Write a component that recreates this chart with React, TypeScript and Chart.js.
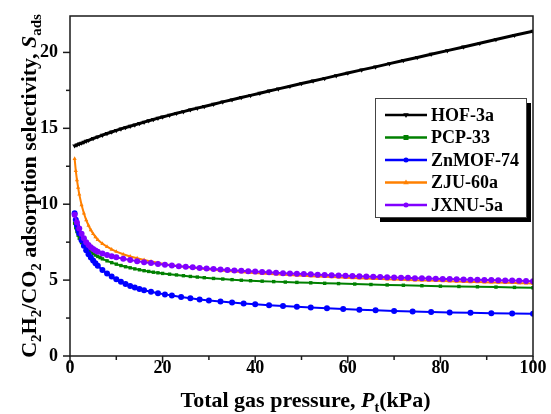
import React, { useEffect, useRef } from 'react';
import { Chart, registerables } from 'chart.js';

Chart.register(...registerables);

const FAMILY = '"Liberation Serif", "Times New Roman", serif';

// Total gas pressure (kPa) and IAST selectivity for each framework
const hofPressure = [1, 1.5, 2, 2.5, 3, 3.5, 4, 5, 6, 7, 8, 9, 10, 11, 12, 13, 14, 15, 16, 17, 18, 19, 20, 21.5, 23, 24.5, 26, 27.5, 29, 31, 33, 35, 37, 39, 41, 43, 45, 47.5, 50, 52.5, 55, 57.5, 60, 63, 66, 69, 72, 75, 78, 81.5, 85, 88.5, 92, 96, 100];
const hofSelectivity = [13.85, 13.91, 13.97, 14.03, 14.09, 14.15, 14.21, 14.33, 14.44, 14.55, 14.66, 14.76, 14.86, 14.96, 15.05, 15.14, 15.23, 15.32, 15.41, 15.5, 15.58, 15.67, 15.75, 15.87, 15.99, 16.1, 16.22, 16.33, 16.44, 16.59, 16.74, 16.88, 17.03, 17.17, 17.31, 17.46, 17.6, 17.77, 17.95, 18.12, 18.29, 18.47, 18.64, 18.85, 19.05, 19.26, 19.47, 19.67, 19.88, 20.12, 20.36, 20.6, 20.85, 21.13, 21.4];

const pcpPressure = [1, 1.25, 1.5, 1.75, 2, 2.5, 3, 3.5, 4, 4.5, 5, 5.5, 6, 6.5, 7, 8, 9, 10, 11, 12, 13, 14, 15, 16, 17, 18, 19, 20, 21.5, 23, 24.5, 26, 27.5, 29, 31, 33, 35, 37, 39, 41.5, 44, 46.5, 49, 52, 55, 58, 61.5, 65, 68.5, 72, 76, 80, 84, 88, 92, 96, 100];
const pcpSelectivity = [8.75, 8.45, 8.2, 7.96, 7.76, 7.47, 7.26, 7.12, 7.0, 6.87, 6.75, 6.65, 6.56, 6.48, 6.4, 6.27, 6.15, 6.05, 5.96, 5.88, 5.81, 5.74, 5.68, 5.62, 5.57, 5.52, 5.48, 5.44, 5.39, 5.34, 5.29, 5.24, 5.2, 5.16, 5.11, 5.07, 5.03, 4.99, 4.96, 4.93, 4.9, 4.87, 4.85, 4.82, 4.79, 4.77, 4.74, 4.71, 4.68, 4.66, 4.63, 4.6, 4.58, 4.56, 4.54, 4.52, 4.5];

const znPressure = [1, 1.25, 1.5, 1.75, 2, 2.5, 3, 3.5, 4, 4.5, 5, 5.5, 6, 7, 8, 9, 10, 11, 12, 13, 14, 15, 16, 17.5, 19, 20.5, 22, 24, 26, 28, 30, 32.5, 35, 37.5, 40, 43, 46, 49, 52, 55.5, 59, 62.5, 66, 70, 74, 78, 82, 86.5, 91, 95.5, 100];
const znSelectivity = [9.4, 8.98, 8.62, 8.33, 8.08, 7.63, 7.27, 6.97, 6.71, 6.49, 6.29, 6.11, 5.95, 5.67, 5.43, 5.23, 5.05, 4.89, 4.75, 4.62, 4.51, 4.41, 4.33, 4.23, 4.14, 4.06, 3.98, 3.89, 3.81, 3.73, 3.66, 3.59, 3.52, 3.46, 3.41, 3.35, 3.3, 3.25, 3.2, 3.15, 3.1, 3.05, 3.01, 2.97, 2.93, 2.9, 2.87, 2.85, 2.82, 2.8, 2.78];

const zjuPressure = [1, 1.25, 1.5, 1.75, 2, 2.5, 3, 3.5, 4, 4.5, 5, 5.5, 6, 7, 8, 9, 10, 11.5, 13, 14.5, 16, 17.5, 19, 20.5, 22, 23.5, 25, 26.5, 28, 29.5, 31, 32.5, 34, 35.5, 37, 38.5, 40, 41.5, 43, 44.5, 46, 47.5, 49, 50.5, 52, 53.5, 55, 56.5, 58, 59.5, 61, 62.5, 64, 65.5, 67, 68.5, 70, 71.5, 73, 74.5, 76, 77.5, 79, 80.5, 82, 83.5, 85, 86.5, 88, 89.5, 91, 92.5, 94, 95.5, 97, 98.5, 100];
const zjuSelectivity = [13.0, 12.2, 11.6, 11.1, 10.65, 9.95, 9.4, 8.95, 8.6, 8.3, 8.05, 7.84, 7.66, 7.4, 7.2, 7.02, 6.88, 6.7, 6.56, 6.44, 6.33, 6.23, 6.14, 6.05, 5.98, 5.92, 5.87, 5.82, 5.77, 5.72, 5.68, 5.64, 5.6, 5.56, 5.53, 5.49, 5.46, 5.43, 5.41, 5.38, 5.35, 5.33, 5.31, 5.29, 5.26, 5.24, 5.22, 5.2, 5.18, 5.16, 5.14, 5.12, 5.11, 5.09, 5.08, 5.06, 5.04, 5.02, 5.01, 4.99, 4.98, 4.97, 4.95, 4.94, 4.92, 4.91, 4.89, 4.88, 4.87, 4.86, 4.85, 4.84, 4.83, 4.82, 4.8, 4.79, 4.78];

const jxnuPressure = [1, 1.5, 2, 2.5, 3, 3.5, 4, 4.5, 5, 5.5, 6, 7, 8, 9, 10, 11.5, 13, 14.5, 16, 17.5, 19, 20.5, 22, 23.5, 25, 26.5, 28, 29.5, 31, 32.5, 34, 35.5, 37, 38.5, 40, 41.5, 43, 44.5, 46, 47.5, 49, 50.5, 52, 53.5, 55, 56.5, 58, 59.5, 61, 62.5, 64, 65.5, 67, 68.5, 70, 71.5, 73, 74.5, 76, 77.5, 79, 80.5, 82, 83.5, 85, 86.5, 88, 89.5, 91, 92.5, 94, 95.5, 97, 98.5, 100];
const jxnuSelectivity = [9.3, 8.8, 8.4, 8.05, 7.75, 7.5, 7.32, 7.17, 7.05, 6.95, 6.87, 6.76, 6.66, 6.57, 6.5, 6.41, 6.32, 6.25, 6.18, 6.12, 6.06, 6.01, 5.96, 5.92, 5.88, 5.84, 5.8, 5.76, 5.73, 5.7, 5.67, 5.64, 5.61, 5.58, 5.56, 5.53, 5.51, 5.48, 5.46, 5.44, 5.42, 5.4, 5.38, 5.36, 5.34, 5.32, 5.3, 5.29, 5.27, 5.25, 5.24, 5.22, 5.21, 5.19, 5.18, 5.16, 5.15, 5.13, 5.12, 5.11, 5.09, 5.08, 5.07, 5.06, 5.04, 5.03, 5.02, 5.01, 5.0, 4.99, 4.98, 4.97, 4.95, 4.94, 4.93];

const seriesLabels = ['HOF-3a', 'PCP-33', 'ZnMOF-74', 'ZJU-60a', 'JXNU-5a'];

const xMajorTicks = [0, 20, 40, 60, 80, 100];
const xMinorTicks = [10, 30, 50, 70, 90];
const yMajorTicks = [0, 5, 10, 15, 20];
const yMinorTicks = [2.5, 7.5, 12.5, 17.5];

type Part = { t: string; k: 'n' | 'i' | 's' };
const yTitleParts: Part[] = [
  { t: 'C', k: 'n' }, { t: '2', k: 's' }, { t: 'H', k: 'n' }, { t: '2', k: 's' },
  { t: '/CO', k: 'n' }, { t: '2', k: 's' }, { t: ' adsorption selectivity, ', k: 'n' },
  { t: 'S', k: 'i' }, { t: 'ads', k: 's' },
];
const xTitleParts: Part[] = [
  { t: 'Total gas pressure, ', k: 'n' }, { t: 'P', k: 'i' }, { t: 't', k: 's' }, { t: '(kPa)', k: 'n' },
];

function drawRich(ctx: CanvasRenderingContext2D, parts: Part[], cx: number, baseline: number, size: number, subSize: number, subDy: number) {
  const fontFor = (k: string) =>
    k === 'i' ? `italic bold ${size}px ${FAMILY}` : k === 's' ? `bold ${subSize}px ${FAMILY}` : `bold ${size}px ${FAMILY}`;
  const widths = parts.map((p) => { ctx.font = fontFor(p.k); return ctx.measureText(p.t).width; });
  const total = widths.reduce((a, b) => a + b, 0);
  let x = cx - total / 2;
  ctx.textAlign = 'left';
  ctx.textBaseline = 'alphabetic';
  parts.forEach((p, i) => {
    ctx.font = fontFor(p.k);
    ctx.fillText(p.t, x, baseline + (p.k === 's' ? subDy : 0));
    x += widths[i];
  });
}

function drawMarker(ctx: CanvasRenderingContext2D, style: string, x: number, y: number, r: number, rotation: number) {
  ctx.beginPath();
  if (style === 'circle') {
    ctx.arc(x, y, r, 0, Math.PI * 2);
  } else if (style === 'rect') {
    ctx.rect(x - r, y - r, 2 * r, 2 * r);
  } else {
    const s = rotation === 180 ? -1 : 1;
    ctx.moveTo(x, y - s * r * 1.2);
    ctx.lineTo(x + r * 1.1, y + s * r * 0.7);
    ctx.lineTo(x - r * 1.1, y + s * r * 0.7);
    ctx.closePath();
  }
  ctx.fill();
}

const decorations = {
  id: 'decorations',
  afterDraw(chart: any) {
    const { ctx, chartArea: a, scales } = chart;
    const xs = scales.x;
    const ys = scales.y;
    ctx.save();
    ctx.strokeStyle = '#1a1a1a';
    ctx.lineWidth = 1.5;
    ctx.strokeRect(a.left, a.top, a.right - a.left, a.bottom - a.top);
    const seg = (x1: number, y1: number, x2: number, y2: number) => {
      ctx.beginPath(); ctx.moveTo(x1, y1); ctx.lineTo(x2, y2); ctx.stroke();
    };
    xMajorTicks.forEach((v) => { const p = xs.getPixelForValue(v); seg(p, a.bottom, p, a.bottom + 7); });
    xMinorTicks.forEach((v) => { const p = xs.getPixelForValue(v); seg(p, a.bottom, p, a.bottom + 4); });
    yMajorTicks.forEach((v) => { const p = ys.getPixelForValue(v); seg(a.left, p, a.left - 7, p); });
    yMinorTicks.forEach((v) => { const p = ys.getPixelForValue(v); seg(a.left, p, a.left - 4, p); });

    // axis titles
    ctx.fillStyle = '#000';
    drawRich(ctx, xTitleParts, (a.left + a.right) / 2 + 4, 407, 22, 14, 5);
    ctx.save();
    ctx.translate(36, (a.top + a.bottom) / 2);
    ctx.rotate(-Math.PI / 2);
    drawRich(ctx, yTitleParts, 0, 0, 22, 15, 5);
    ctx.restore();

    // legend with drop shadow
    const bx = 375, by = 98, bw = 151, bh = 119;
    ctx.fillStyle = '#000';
    ctx.fillRect(bx + 5, by + 5, bw, bh);
    ctx.fillStyle = '#fff';
    ctx.fillRect(bx, by, bw, bh);
    ctx.strokeStyle = '#444';
    ctx.lineWidth = 1;
    ctx.strokeRect(bx + 0.5, by + 0.5, bw, bh);
    chart.data.datasets.forEach((ds: any, i: number) => {
      const cy = by + 17 + i * 22.5;
      ctx.strokeStyle = ds.borderColor;
      ctx.lineWidth = 2.5;
      seg(385, cy, 427, cy);
      ctx.fillStyle = ds.borderColor;
      drawMarker(ctx, ds.pointStyle, 406, cy, 2.5, ds.pointRotation || 0);
      ctx.fillStyle = '#000';
      ctx.font = `bold 18px ${FAMILY}`;
      ctx.textAlign = 'left';
      ctx.textBaseline = 'middle';
      ctx.fillText(ds.label, 431, cy + 1);
    });
    ctx.restore();
  },
};

function makeSeries(label: string, xs: number[], ys: number[], color: string, pointStyle: string, radius: number, order: number, rotation = 0, width = 2) {
  return {
    label,
    data: xs.map((x, i) => ({ x, y: ys[i] })),
    borderColor: color,
    backgroundColor: color,
    borderWidth: width,
    pointStyle,
    pointRadius: radius,
    pointRotation: rotation,
    pointBorderWidth: 0,
    pointBackgroundColor: color,
    order,
    tension: 0,
  };
}

export default function App() {
  const ref = useRef<HTMLCanvasElement>(null);
  useEffect(() => {
    if (!ref.current) return;
    const chart = new Chart(ref.current, {
      type: 'line',
      data: {
        datasets: [
          makeSeries(seriesLabels[0], hofPressure, hofSelectivity, '#000000', 'triangle', 2.8, 5, 180, 3),
          makeSeries(seriesLabels[1], pcpPressure, pcpSelectivity, '#008000', 'rect', 2.4, 4),
          makeSeries(seriesLabels[2], znPressure, znSelectivity, '#0000ff', 'circle', 3, 3),
          makeSeries(seriesLabels[3], zjuPressure, zjuSelectivity, '#ff8000', 'triangle', 2.4, 2),
          makeSeries(seriesLabels[4], jxnuPressure, jxnuSelectivity, '#8000ff', 'circle', 3, 1),
        ] as any,
      },
      options: {
        animation: false,
        responsive: false,
        devicePixelRatio: 1,
        layout: { padding: { top: 16, right: 18, left: 0, bottom: 0 } },
        plugins: { legend: { display: false }, tooltip: { enabled: false } },
        scales: {
          x: {
            type: 'linear',
            min: 0,
            max: 100,
            grid: { display: false, drawTicks: false },
            border: { display: false },
            ticks: {
              stepSize: 20,
              padding: 2,
              color: '#000',
              maxRotation: 0,
              font: { family: FAMILY, size: 18, weight: 'bold' },
            },
            afterFit: (s: any) => { s.height = 58; s.paddingLeft = 0; s.paddingRight = 0; },
          },
          y: {
            type: 'linear',
            min: 0,
            max: 22.4,
            grid: { display: false, drawTicks: false },
            border: { display: false },
            ticks: {
              stepSize: 5,
              includeBounds: false,
              padding: 12,
              color: '#000',
              font: { family: FAMILY, size: 18, weight: 'bold' },
            },
            afterFit: (s: any) => { s.width = 70; s.paddingTop = 0; s.paddingBottom = 0; },
          },
        },
      } as any,
      plugins: [decorations],
    });
    return () => chart.destroy();
  }, []);
  return (
    <div style={{ position: 'absolute', left: 0, top: 0, width: 551, height: 414, background: '#fff' }}>
      <canvas ref={ref} width={551} height={414} />
    </div>
  );
}
